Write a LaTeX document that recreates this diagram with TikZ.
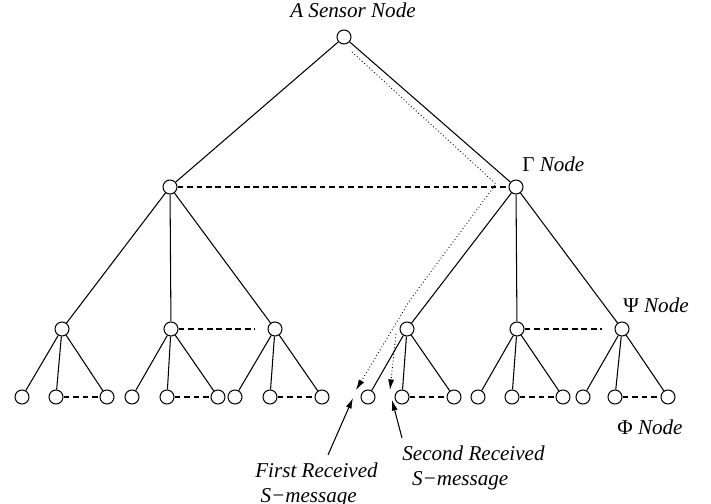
\documentclass[tikz,border=0pt]{standalone}
\usepackage{fontspec}
\setmainfont{Liberation Serif}
\usetikzlibrary{arrows.meta}

\begin{document}
\begin{tikzpicture}[scale = 1,
    vertex/.style={circle, draw, minimum size=0.28cm, inner sep=0pt, line width=0.6pt},
    treeline/.style={line width=0.6pt},
    sibling/.style={line width=1.1pt, dash pattern=on 3.2pt off 2.2pt},
    msgpath/.style={line width=0.5pt, dash pattern=on 0.5pt off 1.4pt, -{Latex[length=6pt,width=3.4pt]}},
    pointer/.style={line width=0.6pt, -{Latex[length=6pt,width=3.4pt]}},
    lbl/.style={font=\fontsize{12}{13.7}\selectfont\itshape, inner sep=0pt, align=left}]
    \useasboundingbox (0,0) rectangle (14.22,10.08);
    % sensor tree
    \node[vertex] (root) at (6.88,9.34) {};
    \node[vertex] (gl) at (3.40,6.34) {};
    \node[vertex] (gamma) at (10.32,6.34) {};
    \node[vertex] (pa) at (1.24,3.50) {};
    \node[vertex] (pb) at (3.42,3.50) {};
    \node[vertex] (pc) at (5.50,3.50) {};
    \node[vertex] (pd) at (8.14,3.50) {};
    \node[vertex] (pe) at (10.34,3.50) {};
    \node[vertex] (psi) at (12.44,3.50) {};
    \node[vertex] (a1) at (0.44,2.14) {};
    \node[vertex] (a2) at (1.12,2.14) {};
    \node[vertex] (a3) at (2.14,2.14) {};
    \node[vertex] (b1) at (2.64,2.14) {};
    \node[vertex] (b2) at (3.34,2.14) {};
    \node[vertex] (b3) at (4.36,2.14) {};
    \node[vertex] (c1) at (4.70,2.14) {};
    \node[vertex] (c2) at (5.40,2.14) {};
    \node[vertex] (c3) at (6.44,2.14) {};
    \node[vertex] (d1) at (7.36,2.14) {};
    \node[vertex] (d2) at (8.04,2.14) {};
    \node[vertex] (d3) at (9.08,2.14) {};
    \node[vertex] (e1) at (9.56,2.14) {};
    \node[vertex] (e2) at (10.24,2.14) {};
    \node[vertex] (e3) at (11.26,2.14) {};
    \node[vertex] (f1) at (11.66,2.14) {};
    \node[vertex] (f2) at (12.30,2.14) {};
    \node[vertex] (phi) at (13.36,2.14) {};
    \draw[treeline] (root) -- (gl);
    \draw[treeline] (root) -- (gamma);
    \draw[treeline] (gl) -- (pa);
    \draw[treeline] (gl) -- (pb);
    \draw[treeline] (gl) -- (pc);
    \draw[treeline] (gamma) -- (pd);
    \draw[treeline] (gamma) -- (pe);
    \draw[treeline] (gamma) -- (psi);
    \draw[treeline] (pa) -- (a1);
    \draw[treeline] (pa) -- (a2);
    \draw[treeline] (pa) -- (a3);
    \draw[treeline] (pb) -- (b1);
    \draw[treeline] (pb) -- (b2);
    \draw[treeline] (pb) -- (b3);
    \draw[treeline] (pc) -- (c1);
    \draw[treeline] (pc) -- (c2);
    \draw[treeline] (pc) -- (c3);
    \draw[treeline] (pd) -- (d1);
    \draw[treeline] (pd) -- (d2);
    \draw[treeline] (pd) -- (d3);
    \draw[treeline] (pe) -- (e1);
    \draw[treeline] (pe) -- (e2);
    \draw[treeline] (pe) -- (e3);
    \draw[treeline] (psi) -- (f1);
    \draw[treeline] (psi) -- (f2);
    \draw[treeline] (psi) -- (phi);
    % same-level links
    \draw[sibling] (gl) -- (gamma);
    \draw[sibling, shorten >=7pt] (pb) -- (pc);
    \draw[sibling, shorten >=7pt] (pe) -- (psi);
    \draw[sibling] (a2) -- (a3);
    \draw[sibling] (b2) -- (b3);
    \draw[sibling] (c2) -- (c3);
    \draw[sibling] (d2) -- (d3);
    \draw[sibling] (e2) -- (e3);
    \draw[sibling] (f2) -- (phi);
    % S-message paths
    \coordinate (s1) at (7.04,9.04);
    \coordinate (k1) at (9.92,6.40);
    \coordinate (k2) at (8.20,4.08);
    \coordinate (m1) at (7.12,2.28);
    \coordinate (s2) at (7.92,3.40);
    \coordinate (m2) at (7.80,2.28);
    \draw[msgpath] (s1) -- (k1) -- (k2) -- (m1);
    \draw[msgpath] (s2) -- (m2);
    % labels
    \node[lbl, anchor=base] (tsensor) at (7.06,9.72) {A Sensor Node};
    \node[lbl, anchor=base west] (tgamma) at (10.44,6.64) {{\upshape Γ} Node};
    \node[lbl, anchor=base west] (tpsi) at (12.46,3.82) {{\upshape Ψ} Node};
    \node[lbl, anchor=base west] (tphi) at (12.34,1.38) {{\upshape Φ} Node};
    \node[lbl, anchor=north west] (tfirst) at (5.10,0.82) {First Received\\\hspace*{3pt}S−message};
    \node[lbl, anchor=north west] (tsecond) at (8.04,1.16) {Second Received\\\hspace*{5.5pt}S−message};
    \coordinate (q1) at (6.56,0.98);
    \coordinate (r1) at (7.06,2.12);
    \coordinate (q2) at (8.04,1.32);
    \coordinate (r2) at (7.84,2.08);
    \draw[pointer] (q1) -- (r1);
    \draw[pointer] (q2) -- (r2);
\end{tikzpicture}
\end{document}
